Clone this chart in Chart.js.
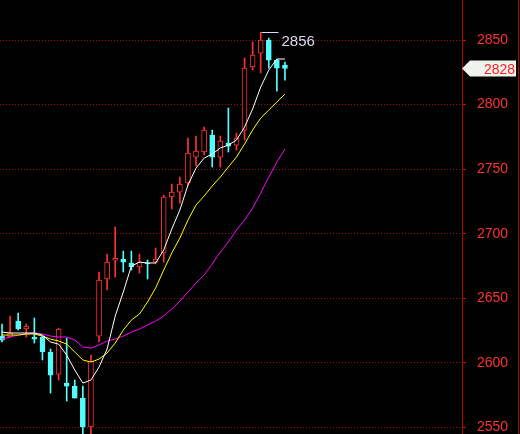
<!DOCTYPE html>
<html lang="zh">
<head>
<meta charset="UTF-8">
<title>K线图</title>
<script src="https://cdn.jsdelivr.net/npm/chart.js"></script>
<style>
  html, body { margin: 0; padding: 0; background: #000; }
  .chart-box { width: 520px; height: 434px; position: relative; }
</style>
</head>
<body>
<div class="chart-box"><canvas id="kChart"></canvas></div>
<script>
// candle data
const opens  = [2620.8, 2620.1, 2632.4, 2626.3, 2620.1, 2620.1, 2608.5, 2591.4, 2584.4, 2582.1, 2572.8, 2550.4,
                2620.8, 2665.0, 2679.5, 2680.5, 2677.4, 2674.3, 2677.4, 2678.1, 2685.1, 2728.5, 2732.3, 2739.3,
                2759.4, 2763.3, 2776.5, 2759.4, 2770.3, 2768.7, 2780.3, 2829.1, 2839.9, 2850.0, 2834.5, 2830.6];
const highs  = [2630.1, 2636.3, 2638.6, 2630.1, 2634.8, 2620.8, 2610.8, 2627.0, 2619.3, 2586.8, 2582.1, 2606.1,
                2670.4, 2684.3, 2705.2, 2686.6, 2686.6, 2684.3, 2679.7, 2689.0, 2730.0, 2738.5, 2743.9, 2774.1,
                2775.7, 2782.6, 2780.3, 2775.7, 2797.4, 2778.0, 2836.1, 2848.5, 2856.0, 2851.5, 2835.3, 2833.0];
const lows   = [2616.2, 2619.5, 2625.5, 2620.1, 2615.4, 2602.3, 2576.7, 2586.8, 2570.5, 2572.8, 2540.0, 2540.0,
                2616.2, 2656.5, 2666.5, 2670.4, 2671.9, 2669.6, 2665.0, 2676.6, 2678.1, 2719.2, 2723.8, 2737.7,
                2752.5, 2761.0, 2751.7, 2751.7, 2763.3, 2764.8, 2772.6, 2826.8, 2824.5, 2828.3, 2810.5, 2819.0];
const closes = [2617.7, 2623.2, 2626.3, 2628.6, 2618.5, 2608.5, 2590.6, 2626.3, 2582.1, 2572.8, 2550.4, 2601.5,
                2664.2, 2678.1, 2681.0, 2678.1, 2674.3, 2678.1, 2676.6, 2680.5, 2728.5, 2732.3, 2738.5, 2762.5,
                2764.1, 2780.3, 2759.4, 2771.8, 2767.9, 2774.1, 2828.3, 2838.4, 2850.0, 2834.5, 2828.3, 2828.0];

// moving averages
const ma5  = [2623.9, 2623.2, 2623.2, 2623.2, 2623.2, 2621.6, 2616.2, 2614.6, 2606.1, 2594.5, 2584.4, 2586.8,
              2596.8, 2610.8, 2636.3, 2654.9, 2675.0, 2678.1, 2677.4, 2677.4, 2687.4, 2703.7, 2718.4, 2737.7,
              2750.9, 2758.6, 2761.7, 2766.4, 2768.7, 2772.6, 2782.6, 2796.6, 2813.6, 2826.8, 2835.3, 2835.3];
const ma10 = [2621.6, 2621.6, 2621.6, 2622.4, 2622.4, 2620.8, 2618.5, 2617.0, 2614.6, 2608.5, 2602.3, 2600.7,
              2603.0, 2607.7, 2615.4, 2625.5, 2633.2, 2637.9, 2647.2, 2658.0, 2671.9, 2685.1, 2696.7, 2710.6,
              2722.3, 2729.2, 2737.0, 2743.9, 2751.7, 2759.4, 2769.5, 2780.3, 2789.6, 2795.8, 2802.0, 2808.2];
const ma20 = [2618.5, 2620.1, 2621.6, 2622.4, 2623.2, 2622.4, 2620.8, 2620.1, 2620.1, 2617.7, 2612.3, 2611.5,
              2613.9, 2617.0, 2618.5, 2620.8, 2623.9, 2626.3, 2629.4, 2632.4, 2636.3, 2641.7, 2647.9, 2654.9,
              2661.9, 2668.1, 2676.6, 2685.9, 2693.6, 2702.9, 2710.6, 2719.9, 2731.5, 2743.9, 2755.6, 2765.6];

const yTicks = [2550, 2600, 2650, 2700, 2750, 2800, 2850];

const UP = '#ff3232';
const DOWN = '#54fcfc';
const FONT = '"Liberation Sans", Arial, sans-serif';

const isUp = i => closes[i] >= opens[i];
const candleColor = opens.map((o, i) => isUp(i) ? UP : DOWN);

function line(values, color) {
    return {
        type: 'line',
        data: values.map((v, i) => ({ x: i, y: v })),
        borderColor: color,
        borderWidth: 1,
        pointRadius: 0,
        tension: 0,
        fill: false
    };
}

const overlay = {
    id: 'overlay',
    beforeDraw(chart) {
        const ctx = chart.ctx;
        ctx.save();
        ctx.fillStyle = '#000';
        ctx.fillRect(0, 0, chart.width, chart.height);
        ctx.restore();
    },
    afterDraw(chart) {
        const { ctx, chartArea } = chart;
        const xs = chart.scales.x, ys = chart.scales.y;
        const ax = Math.round(chartArea.right);
        ctx.save();

        // axis line and right frame
        ctx.strokeStyle = '#b40000';
        ctx.lineWidth = 1;
        ctx.beginPath();
        ctx.moveTo(ax + 0.5, 0); ctx.lineTo(ax + 0.5, chart.height);
        ctx.moveTo(chart.width - 1.5, 0); ctx.lineTo(chart.width - 1.5, chart.height);
        ctx.stroke();

        // highest price mark
        let hi = 0;
        for (let i = 1; i < highs.length; i++) if (highs[i] > highs[hi]) hi = i;
        const hx = Math.round(xs.getPixelForValue(hi)) + 0.5;
        const hy = Math.round(ys.getPixelForValue(highs[hi])) + 0.5;
        ctx.strokeStyle = '#d8dcf0';
        ctx.beginPath();
        ctx.moveTo(hx, hy); ctx.lineTo(hx + 17, hy);
        ctx.stroke();
        ctx.fillStyle = '#d8dcf0';
        ctx.font = '15px ' + FONT;
        ctx.textBaseline = 'alphabetic';
        ctx.fillText(String(Math.round(highs[hi])), hx + 20, hy + 13);

        // last price tag
        const last = closes[closes.length - 1];
        const ty = ys.getPixelForValue(last);
        ctx.fillStyle = '#eef3ee';
        ctx.beginPath();
        ctx.moveTo(ax, ty);
        ctx.lineTo(ax + 8, ty - 8);
        ctx.lineTo(ax + 54, ty - 8);
        ctx.lineTo(ax + 54, ty + 8);
        ctx.lineTo(ax + 8, ty + 8);
        ctx.closePath();
        ctx.fill();
        ctx.fillStyle = '#ff2020';
        ctx.font = '14px ' + FONT;
        ctx.fillText(String(last), ax + 22, ty + 5.5);

        ctx.restore();
    }
};

new Chart(document.getElementById('kChart'), {
    type: 'bar',
    data: {
        datasets: [
            line(ma5, '#ffffff'),
            line(ma10, '#ffff00'),
            line(ma20, '#ff00ff'),
            {
                // bodies
                data: opens.map((o, i) => ({ x: i, y: [Math.min(o, closes[i]), Math.max(o, closes[i])] })),
                backgroundColor: opens.map((o, i) => isUp(i) ? '#000000' : DOWN),
                borderColor: candleColor,
                borderWidth: 1,
                borderSkipped: false,
                barThickness: 5,
                grouped: false
            },
            {
                // wicks
                data: highs.map((h, i) => ({ x: i, y: [lows[i], h] })),
                backgroundColor: candleColor,
                borderWidth: 0,
                barThickness: 1,
                grouped: false
            }
        ]
    },
    options: {
        responsive: true,
        maintainAspectRatio: false,
        animation: false,
        layout: { padding: 0 },
        plugins: {
            legend: { display: false },
            tooltip: { enabled: false }
        },
        scales: {
            x: {
                type: 'linear',
                min: -0.25,
                max: 56.9,
                offset: false,
                display: false,
                grid: { display: false }
            },
            y: {
                position: 'right',
                min: 2545,
                max: 2881,
                afterBuildTicks: scale => { scale.ticks = yTicks.map(v => ({ value: v })); },
                afterFit: scale => {
                    scale.width = 58;
                    scale.paddingTop = 0;
                    scale.paddingBottom = 0;
                },
                border: { display: false, dash: [1, 2] },
                grid: {
                    color: '#a01010',
                    lineWidth: 1,
                    tickLength: 4,
                    tickColor: '#c81414'
                },
                ticks: {
                    color: UP,
                    padding: 11,
                    font: { size: 14, family: FONT },
                    callback: v => String(v)
                }
            }
        }
    },
    plugins: [overlay]
});
</script>
</body>
</html>
